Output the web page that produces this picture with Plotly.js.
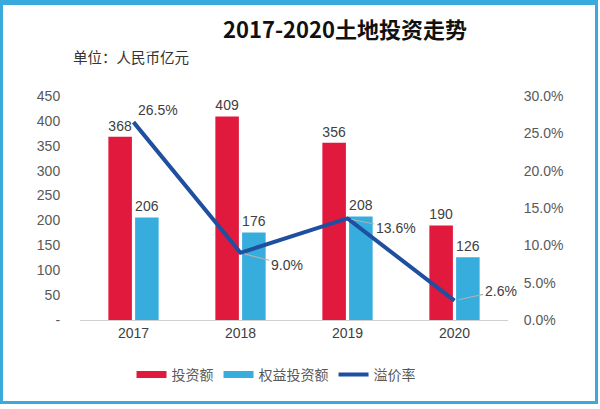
<!DOCTYPE html>
<html><head><meta charset="utf-8">
<script src="https://cdn.plot.ly/plotly-3.0.1.min.js"></script>
<style>
html,body{margin:0;padding:0;background:#fff;}
#wrap{position:relative;width:600px;height:409px;}
#chart{position:absolute;left:0;top:0;width:600px;height:409px;}
#frame{position:absolute;left:0;top:0;width:598px;height:404px;box-sizing:border-box;border:3px solid #3aa9db;border-top-width:5px;pointer-events:none;}
</style></head>
<body><div id="wrap"><div id="chart"></div><div id="frame"></div></div>
<script>
const years = ['2017','2018','2019','2020'];
const investment = [368, 409, 356, 190];
const equityInvestment = [206, 176, 208, 126];
const premiumRate = [0.265, 0.090, 0.136, 0.026];
const seriesNames = ['投资额', '权益投资额', '溢价率'];
const leftTicks = [0,50,100,150,200,250,300,350,400,450];
const leftTickText = ['-','50','100','150','200','250','300','350','400','450'];
const rightTicks = [0,0.05,0.10,0.15,0.20,0.25,0.30];

const RED = '#e0193d', BLUE = '#36addd', LINE = '#1f4f9f';
const cjk = '"Noto Sans CJK SC", "Liberation Sans", sans-serif';
const arial = '"Liberation Sans", Arial, sans-serif';
const empty = years.map(()=>null);

const traces = [
  {type:'bar', x:years, y:investment, marker:{color:RED}, text:investment.map(String),
   textposition:'outside', cliponaxis:false, textfont:{family:arial,size:14,color:'#404040'}, showlegend:false, name:seriesNames[0]},
  {type:'bar', x:years, y:equityInvestment, marker:{color:BLUE}, text:equityInvestment.map(String),
   textposition:'outside', cliponaxis:false, textfont:{family:arial,size:14,color:'#404040'}, showlegend:false, name:seriesNames[1]},
  {type:'scatter', mode:'lines', x:years, y:premiumRate, yaxis:'y2', line:{color:LINE,width:4}, showlegend:false, name:seriesNames[2]},
  {type:'scatter', mode:'lines', x:years, y:empty, yaxis:'y2', line:{color:RED,width:7}, name:seriesNames[0]},
  {type:'scatter', mode:'lines', x:years, y:empty, yaxis:'y2', line:{color:BLUE,width:7}, name:seriesNames[1]},
  {type:'scatter', mode:'lines', x:years, y:empty, yaxis:'y2', line:{color:LINE,width:4}, name:seriesNames[2]}
];

const lblOff = [[24,-12,false],[46,12,true],[48,10,true],[46,-10,true]];
const annotations = premiumRate.map((v,i)=>({
  x:i, y:v, xref:'x', yref:'y2', text:(v*100).toFixed(1)+'%',
  showarrow:lblOff[i][2], arrowhead:0, arrowwidth:1.2, arrowcolor:'#b0b0b0',
  ax:lblOff[i][0], ay:lblOff[i][1], standoff:4,
  xshift: lblOff[i][2]?0:lblOff[i][0], yshift: lblOff[i][2]?0:-lblOff[i][1],
  font:{family:arial,size:14,color:'#404040'}
}));
annotations.push({xref:'paper', yref:'paper', x:-0.022, y:1.175, xanchor:'left', yanchor:'middle',
  text:'单位：人民币亿元', showarrow:false, font:{family:cjk,size:14.5,color:'#333'}});

const layout = {
  width:600, height:409,
  margin:{l:80, r:92, t:96, b:89},
  paper_bgcolor:'#fff', plot_bgcolor:'#fff',
  title:{text:'<b>2017-2020土地投资走势</b>', x:0.575, xanchor:'center', y:1-30/409, yanchor:'middle',
    font:{family:cjk,size:22,color:'#111'}},
  barmode:'group', bargap:0.5, bargroupgap:0.12,
  xaxis:{type:'category', range:[-0.5,3.5], autorange:false, showline:true, linecolor:'#d0d0d0', linewidth:1, ticks:'',
    tickfont:{family:arial,size:14,color:'#404040'}},
  yaxis:{range:[0,450], autorange:false, tickvals:leftTicks, ticktext:leftTickText, showgrid:false, zeroline:false,
    ticks:'outside', ticklen:16, tickcolor:'rgba(0,0,0,0)', tickfont:{family:arial,size:14,color:'#595959'}},
  yaxis2:{overlaying:'y', side:'right', anchor:'x', range:[0,0.3], autorange:false, tickvals:rightTicks, tickformat:'.1%', showgrid:false, zeroline:false,
    ticks:'outside', ticklen:12, tickcolor:'rgba(0,0,0,0)', tickfont:{family:arial,size:14,color:'#595959'}},
  legend:{orientation:'h', x:0.458, xanchor:'center', y:-0.245, yanchor:'middle',
    font:{family:cjk,size:14,color:'#595959'}},
  annotations:annotations,
  showlegend:true
};
Plotly.newPlot('chart', traces, layout, {displayModeBar:false, staticPlot:true});
</script></body></html>
